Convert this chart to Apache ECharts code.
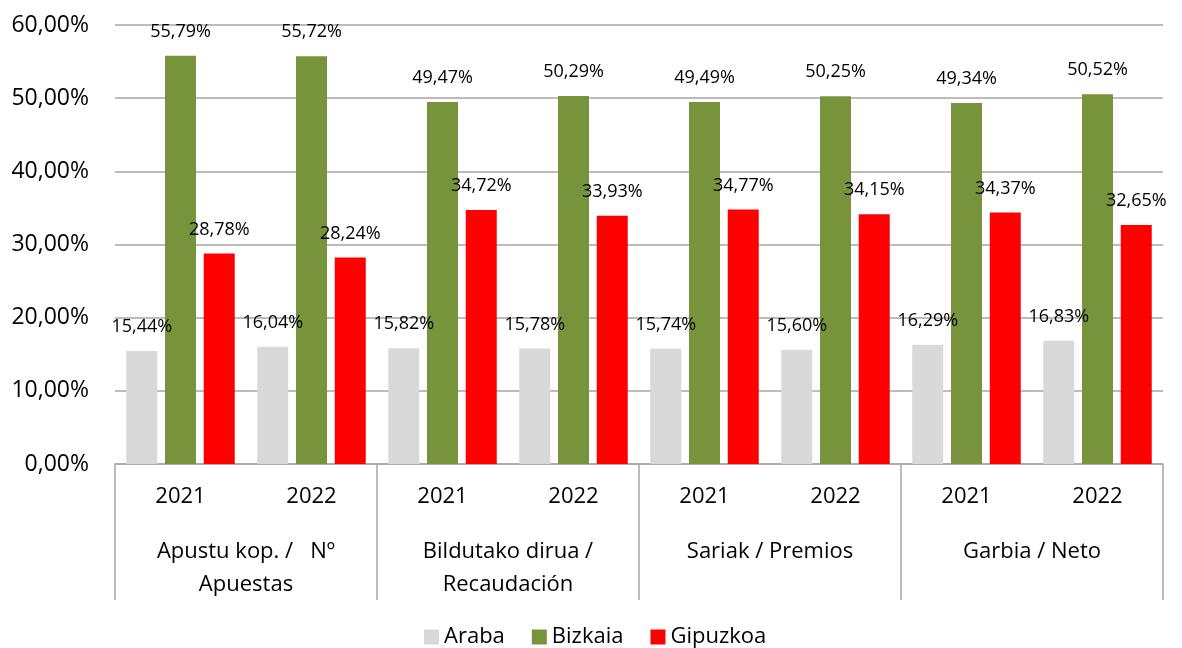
<!DOCTYPE html>
<html>
<head>
<meta charset="utf-8">
<script src="https://cdn.jsdelivr.net/npm/echarts@6/dist/echarts.min.js"></script>
<style>html,body{margin:0;padding:0;background:#fff}#c{width:1182px;height:648px}</style>
</head>
<body>
<div id="c"></div>
<script>
const years = ['2021','2022','2021','2022','2021','2022','2021','2022'];
const groups = ['Apustu kop. /   Nº\nApuestas', 'Bildutako dirua /\nRecaudación', 'Sariak / Premios', 'Garbia / Neto'];
const seriesNames = ['Araba', 'Bizkaia', 'Gipuzkoa'];
const araba = [15.44, 16.04, 15.82, 15.78, 15.74, 15.60, 16.29, 16.83];
const bizkaia = [55.79, 55.72, 49.47, 50.29, 49.49, 50.25, 49.34, 50.52];
const gipuzkoa = [28.78, 28.24, 34.72, 33.93, 34.77, 34.15, 34.37, 32.65];
const yTicks = [0, 60, 10];

const FONT = '"Open Sans", "Noto Sans", sans-serif';
const fmt = v => v.toFixed(2).replace('.', ',') + '%';
const colors = ['#D9D9D9', '#77933C', '#FF0000'];
const mk = (name, data, i) => ({
  name, type: 'bar', data, xAxisIndex: 0,
  barWidth: 31, barGap: '25%',
  itemStyle: { color: colors[i] },
  label: { show: true, position: 'top', distance: 15, color: '#000', fontFamily: FONT, fontSize: 18,
           formatter: p => fmt(p.value) }
});
const chart = echarts.init(document.getElementById('c'));
chart.setOption({
  animation: false,
  textStyle: { fontFamily: FONT },
  grid: { left: 115, right: 19, top: 25, bottom: 184 },
  legend: {
    top: 621, left: 419, itemWidth: 15, itemHeight: 15, itemGap: 27,
    icon: 'rect',
    textStyle: { fontFamily: FONT, fontSize: 22, color: '#000' },
    data: seriesNames
  },
  xAxis: [
    { type: 'category', data: years, position: 'bottom',
      axisLine: { show: false }, axisTick: { show: false },
      axisLabel: { margin: 22, fontSize: 22, color: '#000', fontFamily: FONT } },
    { type: 'category', data: groups, position: 'bottom',
      axisLine: { show: true, lineStyle: { color: '#A6A6A6', width: 1.5 } },
      axisTick: { show: true, length: 136, lineStyle: { color: '#A6A6A6', width: 1.5 } },
      axisLabel: { margin: 71, fontSize: 22, lineHeight: 33, color: '#000', fontFamily: FONT, interval: 0 } }
  ],
  yAxis: {
    type: 'value', min: yTicks[0], max: yTicks[1], interval: yTicks[2],
    axisLine: { show: false }, axisTick: { show: false },
    splitLine: { lineStyle: { color: '#A6A6A6', width: 1.5 } },
    axisLabel: { margin: 26, fontSize: 23, color: '#000', fontFamily: FONT, formatter: v => fmt(v) }
  },
  series: [mk(seriesNames[0], araba, 0), mk(seriesNames[1], bizkaia, 1), mk(seriesNames[2], gipuzkoa, 2)]
});
</script>
</body>
</html>
